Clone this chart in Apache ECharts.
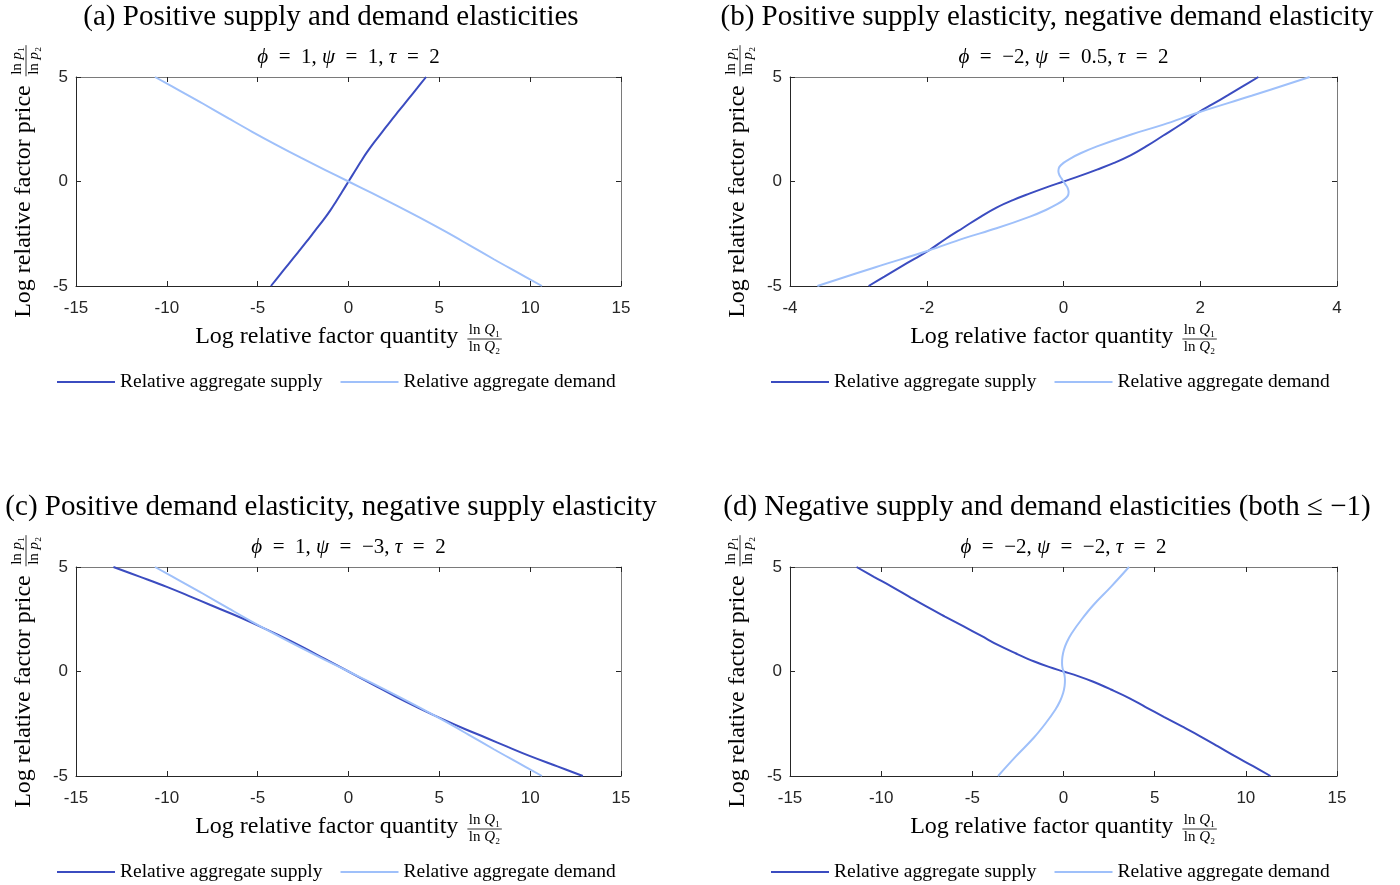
<!DOCTYPE html>
<html>
<head>
<meta charset="utf-8">
<title>Relative supply and demand</title>
<script src="https://cdn.jsdelivr.net/npm/echarts@6/dist/echarts.min.js"></script>
<style>
  html, body { margin: 0; padding: 0; background: #fff; }
  #chart { width: 1400px; height: 885px; }
</style>
</head>
<body>
<div id="chart"></div>
<script>
// 面板标题和参数
const panelTitles = [
  '(a) Positive supply and demand elasticities',
  '(b) Positive supply elasticity, negative demand elasticity',
  '(c) Positive demand elasticity, negative supply elasticity',
  '(d) Negative supply and demand elasticities (both \u2264 \u22121)'
]
const phiValues = ['1', '\u22122', '1', '\u22122']
const psiValues = ['1', '0.5', '\u22123', '\u22122']
const tauValues = ['2', '2', '2', '2']

// 坐标轴范围
const xMin = [-15, -4, -15, -15]
const xMax = [15, 4, 15, 15]
const xStep = [5, 2, 5, 5]
const yMin = -5
const yMax = 5
const yStep = 5

const supplyName = 'Relative aggregate supply'
const demandName = 'Relative aggregate demand'

// [ln Q1/Q2, ln p1/p2]
const supplyA = [[-4.27, -5], [-3.8, -4.49], [-3.3, -3.95], [-2.8, -3.41], [-2.3, -2.87], [-1.85, -2.36],
  [-1.4, -1.86], [-1.0, -1.38], [-0.7, -0.98], [-0.35, -0.49], [0, 0], [0.35, 0.49], [0.7, 0.98],
  [1.0, 1.38], [1.4, 1.86], [1.85, 2.36], [2.3, 2.87], [2.8, 3.41], [3.3, 3.95], [3.8, 4.49], [4.27, 5]]
const demandA = [[-10.65, 5], [-9.3, 4.35], [-8, 3.72], [-6.6, 3.02], [-5.3, 2.38], [-3.9, 1.72],
  [-2.6, 1.13], [-1.3, 0.56], [0, 0], [1.3, -0.56], [2.6, -1.13], [3.9, -1.72], [5.3, -2.38],
  [6.6, -3.02], [8, -3.72], [9.3, -4.35], [10.65, -5]]

const supplyB = [[-2.85, -5], [-2.62, -4.55], [-2.4, -4.12], [-2.18, -3.7], [-1.97, -3.3], [-1.72, -2.74],
  [-1.46, -2.2], [-1.22, -1.7], [-0.98, -1.25], [-0.74, -0.89], [-0.49, -0.57], [-0.25, -0.28], [0, 0],
  [0.25, 0.28], [0.49, 0.57], [0.74, 0.89], [0.98, 1.25], [1.22, 1.7], [1.46, 2.2], [1.72, 2.74],
  [1.97, 3.3], [2.18, 3.7], [2.4, 4.12], [2.62, 4.55], [2.85, 5]]
const demandB = [[-3.6, -5], [-2.75, -4.1], [-1.97, -3.3], [-1.46, -2.72], [-0.98, -2.24], [-0.49, -1.68],
  [-0.25, -1.35], [-0.1, -1.1], [0, -0.89], [0.06, -0.7], [0.075, -0.5], [0.06, -0.3], [0.03, -0.15], [0, 0],
  [-0.03, 0.15], [-0.06, 0.3], [-0.075, 0.5], [-0.06, 0.7], [0, 0.89], [0.1, 1.1], [0.25, 1.35],
  [0.49, 1.68], [0.98, 2.24], [1.46, 2.72], [1.97, 3.3], [2.75, 4.1], [3.6, 5]]

const supplyC = [[-12.94, 5], [-11.5, 4.54], [-10, 4.05], [-8.8, 3.62], [-7.6, 3.18], [-6.4, 2.75],
  [-5.3, 2.33], [-3.9, 1.76], [-2.6, 1.2], [-1.3, 0.6], [0, 0], [1.3, -0.6], [2.6, -1.2], [3.9, -1.76],
  [5.3, -2.33], [6.4, -2.75], [7.6, -3.18], [8.8, -3.62], [10, -4.05], [11.5, -4.54], [12.9, -5]]
const demandC = [[-10.65, 5], [-9.3, 4.35], [-8, 3.72], [-6.6, 3.02], [-5.3, 2.38], [-3.9, 1.72],
  [-2.6, 1.13], [-1.3, 0.56], [0, 0], [1.3, -0.56], [2.6, -1.13], [3.9, -1.72], [5.3, -2.38],
  [6.6, -3.02], [8, -3.72], [9.3, -4.35], [10.65, -5]]

const supplyD = [[-11.35, 5], [-10.4, 4.53], [-9.4, 4.05], [-8.45, 3.57], [-7.5, 3.1], [-6.5, 2.63],
  [-5.5, 2.17], [-4.5, 1.7], [-3.6, 1.27], [-2.6, 0.86], [-1.6, 0.48], [-0.8, 0.22], [0, 0],
  [0.8, -0.22], [1.6, -0.48], [2.6, -0.86], [3.6, -1.27], [4.5, -1.7], [5.5, -2.17], [6.5, -2.63],
  [7.5, -3.1], [8.45, -3.57], [9.4, -4.05], [10.4, -4.53], [11.35, -5]]
const demandD = [[-3.59, -5], [-2.6, -4.05], [-1.63, -3.17], [-1.0, -2.5], [-0.45, -1.83], [-0.18, -1.4],
  [-0.02, -1.03], [0.06, -0.7], [0.08, -0.4], [0.05, -0.15], [0, 0], [-0.05, 0.15], [-0.08, 0.4],
  [-0.06, 0.7], [0.02, 1.03], [0.18, 1.4], [0.45, 1.83], [1.0, 2.5], [1.63, 3.17], [2.6, 4.05], [3.59, 5]]

const supplyData = [supplyA, supplyB, supplyC, supplyD]
const demandData = [demandA, demandB, demandC, demandD]

// 颜色
const colors = {
  supply: '#3b4cc0',
  demand: '#9fc0fa',
  axis: '#262626',
  box: '#7a7a7a'
}

const serif = 'Liberation Serif'
const sans = 'Liberation Sans'

// 布局
const grids = [
  { left: 76, top: 77, width: 545, height: 209 },
  { left: 790, top: 77, width: 547, height: 209 },
  { left: 76, top: 567, width: 545, height: 209 },
  { left: 790, top: 567, width: 547, height: 209 }
]
const titleCenters = [331, 1047, 331, 1047]

const measureCtx = document.createElement('canvas').getContext('2d')
function textWidth (s, font) {
  measureCtx.font = font
  return measureCtx.measureText(s).width
}

// 带分数的坐标轴标题
function fracLabel (text, sym, cx, cy, rotation) {
  const mainFont = '24px "' + serif + '"'
  const fracFont = '15px "' + serif + '"'
  const fracRich = {
    n: { fontFamily: serif, fontSize: 15, color: '#000' },
    i: { fontFamily: serif, fontSize: 15, fontStyle: 'italic', color: '#000' }
  }
  const w1 = textWidth(text, mainFont)
  const wf = textWidth('ln ' + sym + '\u2081', fracFont) + 3
  const gap = 9
  const total = w1 + gap + wf
  const x0 = -total / 2
  const fx = x0 + w1 + gap
  return {
    type: 'group',
    x: cx,
    y: cy,
    rotation: rotation,
    children: [
      { type: 'text', x: x0, y: 0, style: { text: text, font: mainFont, fill: '#000', align: 'left', verticalAlign: 'middle', textAlign: 'left', textVerticalAlign: 'middle' } },
      { type: 'line', shape: { x1: fx, y1: 2, x2: fx + wf, y2: 2 }, style: { stroke: '#000', lineWidth: 0.8 } },
      { type: 'text', x: fx + wf / 2, y: 1, style: { text: '{n|ln }{i|' + sym + '}{n|\u2081}', rich: fracRich, fill: '#000', align: 'center', verticalAlign: 'bottom', textAlign: 'center', textVerticalAlign: 'bottom' } },
      { type: 'text', x: fx + wf / 2, y: 3, style: { text: '{n|ln }{i|' + sym + '}{n|\u2082}', rich: fracRich, fill: '#000', align: 'center', verticalAlign: 'top', textAlign: 'center', textVerticalAlign: 'top' } }
    ]
  }
}

const chart = echarts.init(document.getElementById('chart'))

const xAxes = []
const yAxes = []
const series = []
const titles = []
const legends = []
const graphics = []

grids.forEach((g, i) => {
  const cx = g.left + g.width / 2
  const cy = g.top + g.height / 2

  xAxes.push({
    gridIndex: i, type: 'value', min: xMin[i], max: xMax[i], interval: xStep[i], position: 'bottom',
    axisLine: { onZero: false, lineStyle: { color: colors.axis, width: 1 } },
    axisTick: { inside: true, length: 5, lineStyle: { color: colors.axis } },
    axisLabel: { margin: 14, color: colors.axis, fontFamily: sans, fontSize: 17 },
    splitLine: { show: false }
  })
  xAxes.push({
    gridIndex: i, type: 'value', min: xMin[i], max: xMax[i], interval: xStep[i], position: 'top',
    axisLine: { onZero: false, lineStyle: { color: colors.box, width: 1 } },
    axisTick: { inside: true, length: 5, lineStyle: { color: colors.axis } },
    axisLabel: { show: false },
    splitLine: { show: false }
  })
  yAxes.push({
    gridIndex: i, type: 'value', min: yMin, max: yMax, interval: yStep, position: 'left',
    axisLine: { onZero: false, lineStyle: { color: colors.axis, width: 1 } },
    axisTick: { inside: true, length: 5, lineStyle: { color: colors.axis } },
    axisLabel: { margin: 8, color: colors.axis, fontFamily: sans, fontSize: 17 },
    splitLine: { show: false }
  })
  yAxes.push({
    gridIndex: i, type: 'value', min: yMin, max: yMax, interval: yStep, position: 'right',
    axisLine: { onZero: false, lineStyle: { color: colors.box, width: 1 } },
    axisTick: { inside: true, length: 5, lineStyle: { color: colors.axis } },
    axisLabel: { show: false },
    splitLine: { show: false }
  })

  series.push({
    name: supplyName, type: 'line', xAxisIndex: 2 * i, yAxisIndex: 2 * i,
    data: supplyData[i], symbol: 'none', smooth: 0.4,
    lineStyle: { color: colors.supply, width: 2 }, itemStyle: { color: colors.supply }
  })
  series.push({
    name: demandName, type: 'line', xAxisIndex: 2 * i, yAxisIndex: 2 * i,
    data: demandData[i], symbol: 'none', smooth: 0.4,
    lineStyle: { color: colors.demand, width: 2 }, itemStyle: { color: colors.demand }
  })

  titles.push({
    text: panelTitles[i], left: titleCenters[i], top: g.top - 74, textAlign: 'center', padding: 0,
    textStyle: { fontFamily: serif, fontSize: 29, fontWeight: 'normal', color: '#000' }
  })
  titles.push({
    text: '{i|\u03D5}\u2002=\u2002' + phiValues[i] + ', {i|\u03C8}\u2002=\u2002' + psiValues[i] +
      ', {i|\u03C4}\u2002=\u2002' + tauValues[i],
    left: cx, top: g.top - 30, textAlign: 'center', padding: 0,
    textStyle: {
      fontFamily: serif, fontSize: 21, fontWeight: 'normal', color: '#000',
      rich: { i: { fontFamily: serif, fontSize: 21, fontStyle: 'italic', color: '#000' } }
    }
  })

  legends.push({
    data: [supplyName, demandName],
    left: g.left - 19, top: g.top + g.height + 86,
    icon: 'rect', itemWidth: 58, itemHeight: 2, itemGap: 18, padding: 0,
    textStyle: { fontFamily: serif, fontSize: 19.5, color: '#000' }
  })

  graphics.push(fracLabel('Log relative factor quantity', 'Q', cx, g.top + g.height + 51, 0))
  graphics.push(fracLabel('Log relative factor price', 'p', g.left - 52, cy, Math.PI / 2))
})

chart.setOption({
  animation: false,
  title: titles,
  grid: grids,
  xAxis: xAxes,
  yAxis: yAxes,
  legend: legends,
  graphic: graphics,
  series: series
})
</script>
</body>
</html>
